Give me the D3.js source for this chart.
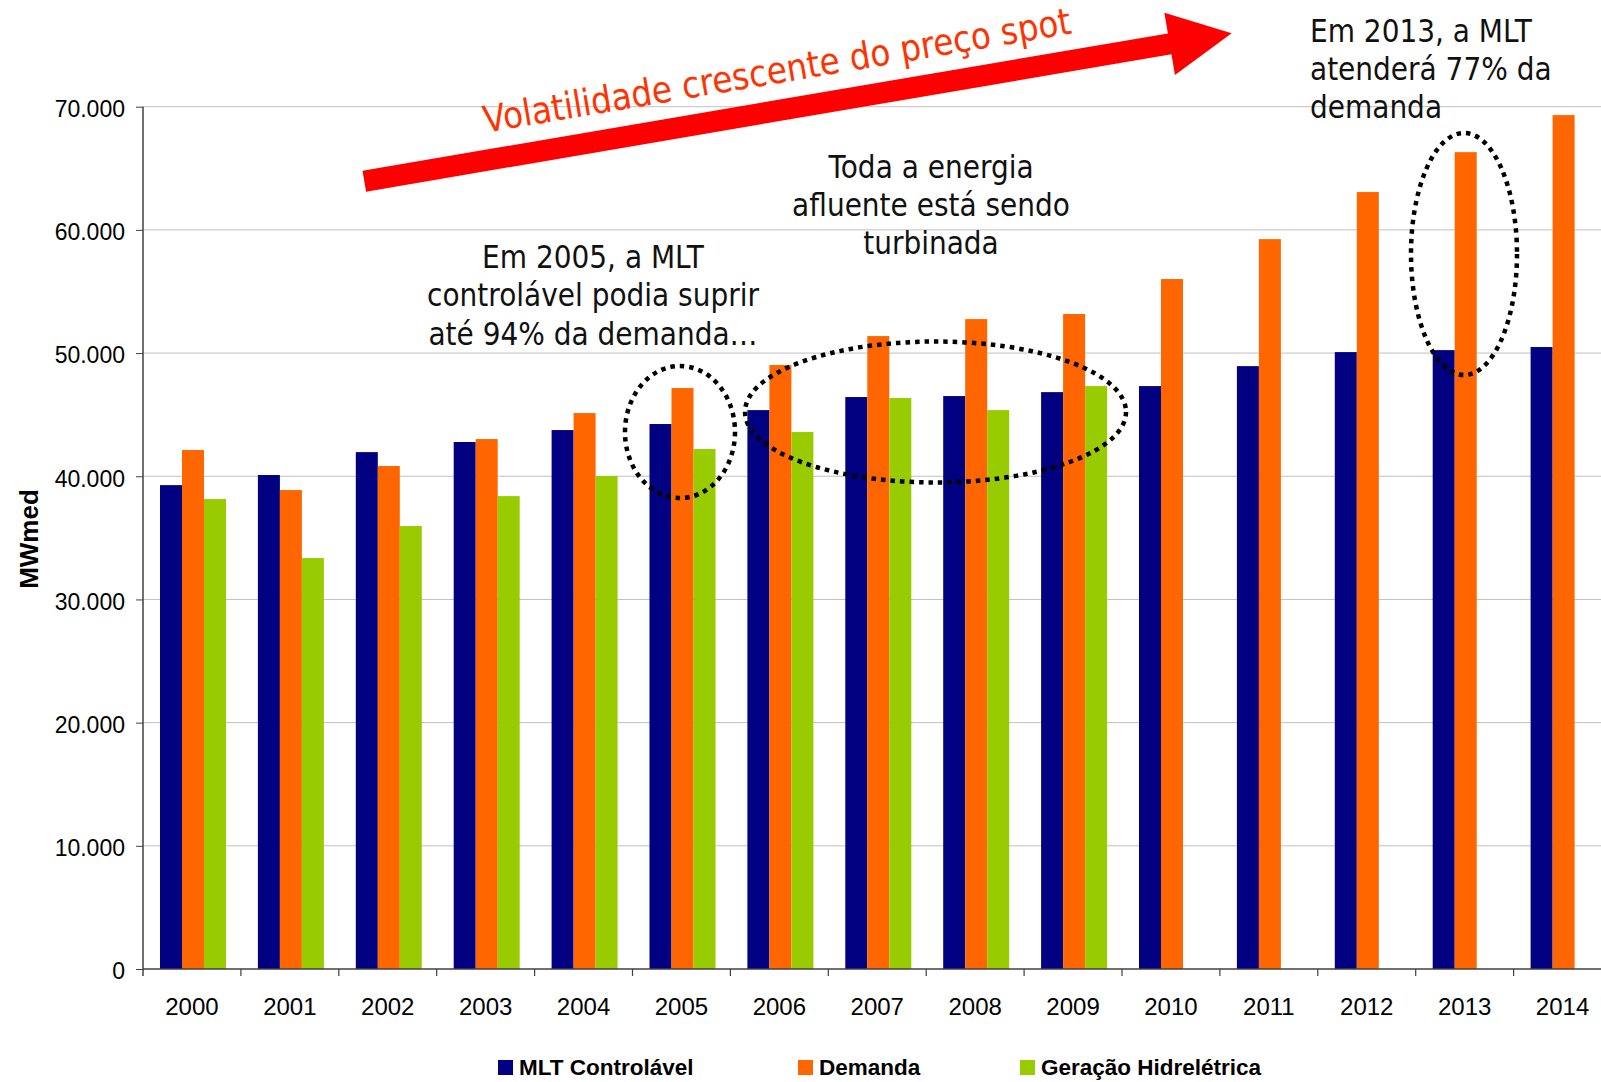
<!DOCTYPE html>
<html>
<head>
<meta charset="utf-8">
<script src="https://cdn.jsdelivr.net/npm/d3@7.9.0/dist/d3.min.js"></script>
<style>
  body { margin: 0; background: #fff; }
  svg { display: block; }
</style>
</head>
<body>
<div id="chart"></div>
<script>
// data (MWmed)
const years = ["2000", "2001", "2002", "2003", "2004", "2005", "2006", "2007",
               "2008", "2009", "2010", "2011", "2012", "2013", "2014"];
const mltControlavel = [39280, 40100, 41960, 42780, 43750, 44240, 45370, 46430,
                        46510, 46830, 47320, 48940, 50080, 50240, 50490];
const demanda = [42130, 38880, 40830, 43020, 45130, 47160, 49030, 51380,
                 52760, 53170, 56010, 59250, 63070, 66310, 69320];
const geracaoHidreletrica = [38150, 33360, 35960, 38390, 40020, 42210, 43590, 46350,
                             45370, 47320, null, null, null, null, null];
const seriesNames = ["MLT Controlável", "Demanda", "Geração Hidrelétrica"];
const seriesColors = ["#000080", "#ff6600", "#99cc00"];
const yTicks = [0, 10000, 20000, 30000, 40000, 50000, 60000, 70000];
const yTitle = "MWmed";

const width = 1601, height = 1082;
const plotLeft = 143, plotTop = 106.7, plotBottom = 969;
const band = 97.9;

const svg = d3.select("#chart").append("svg")
    .attr("width", width)
    .attr("height", height);

const x = d3.scaleBand()
    .domain(years)
    .range([plotLeft, plotLeft + band * years.length]);

const x1 = d3.scaleBand()
    .domain(seriesNames)
    .range([17, 83]);

const y = d3.scaleLinear()
    .domain([0, 70000])
    .range([plotBottom, plotTop]);

const ptBR = d3.formatLocale({ decimal: ",", thousands: ".", grouping: [3], currency: ["", ""] });
const fmt = ptBR.format(",");

// gridlines
svg.append("g")
    .selectAll("line")
    .data(yTicks.filter(d => d > 0))
    .enter()
    .append("line")
    .attr("x1", plotLeft)
    .attr("x2", width)
    .attr("y1", d => y(d))
    .attr("y2", d => y(d))
    .attr("stroke", "#c0c0c0")
    .attr("stroke-width", 1);

// bars
const rows = years.map((yr, i) => ({
    year: yr,
    values: [mltControlavel[i], demanda[i], geracaoHidreletrica[i]]
}));

const groups = svg.append("g")
    .selectAll("g")
    .data(rows)
    .enter()
    .append("g")
    .attr("transform", d => "translate(" + x(d.year) + ",0)");

groups.selectAll("rect")
    .data(d => d.values.map((v, k) => ({ key: seriesNames[k], value: v, k: k })).filter(e => e.value != null))
    .enter()
    .append("rect")
    .attr("x", d => x1(d.key))
    .attr("width", x1.bandwidth())
    .attr("y", d => y(d.value))
    .attr("height", d => y(0) - y(d.value))
    .attr("fill", d => seriesColors[d.k]);

// y axis
const yAxis = svg.append("g")
    .attr("transform", "translate(" + plotLeft + ",0)")
    .call(d3.axisLeft(y).tickValues(yTicks).tickFormat(fmt).tickSize(7).tickSizeOuter(0));
yAxis.select(".domain").remove();
yAxis.selectAll(".tick line").attr("stroke", "#404040");
yAxis.selectAll("text")
    .attr("x", -18)
    .attr("dy", "0.43em")
    .attr("font-family", "'Liberation Sans', Arial, sans-serif")
    .attr("font-size", 23)
    .attr("fill", "#000");
svg.append("line")
    .attr("x1", plotLeft).attr("x2", plotLeft)
    .attr("y1", plotTop).attr("y2", plotBottom + 7)
    .attr("stroke", "#404040").attr("stroke-width", 1.5);

// x axis
const xAxis = svg.append("g")
    .attr("transform", "translate(0," + plotBottom + ")")
    .call(d3.axisBottom(x).tickSize(0).tickSizeOuter(0));
xAxis.select(".domain").remove();
xAxis.selectAll("text")
    .attr("y", 46)
    .attr("dy", 0)
    .attr("font-family", "'Liberation Sans', Arial, sans-serif")
    .attr("font-size", 24)
    .attr("fill", "#000");
svg.append("line")
    .attr("x1", plotLeft).attr("x2", width)
    .attr("y1", plotBottom).attr("y2", plotBottom)
    .attr("stroke", "#404040").attr("stroke-width", 1.5);
svg.append("g")
    .selectAll("line")
    .data(years.slice(1))
    .enter()
    .append("line")
    .attr("x1", d => x(d)).attr("x2", d => x(d))
    .attr("y1", plotBottom).attr("y2", plotBottom + 7)
    .attr("stroke", "#404040").attr("stroke-width", 1.2);

// y title
svg.append("text")
    .attr("transform", "translate(38,539) rotate(-90)")
    .attr("text-anchor", "middle")
    .attr("font-family", "'Liberation Sans', Arial, sans-serif")
    .attr("font-weight", "bold")
    .attr("font-size", 26)
    .text(yTitle);

// legend
const legendX = [498, 798, 1020];
const legend = svg.append("g")
    .selectAll("g")
    .data(seriesNames)
    .enter()
    .append("g")
    .attr("transform", (d, i) => "translate(" + legendX[i] + ",1060)");
legend.append("rect")
    .attr("width", 15).attr("height", 15)
    .attr("fill", (d, i) => seriesColors[i]);
legend.append("text")
    .attr("x", 21).attr("y", 15)
    .attr("font-family", "'Liberation Sans', Arial, sans-serif")
    .attr("font-weight", "bold")
    .attr("font-size", 22.5)
    .text(d => d);

// annotations
function note(lines, tx, baselines, anchor) {
    lines.forEach((t, i) => {
        svg.append("text")
            .attr("transform", "translate(" + tx + "," + baselines[i] + ") scale(0.875,1)")
            .attr("text-anchor", anchor)
            .attr("font-family", "'DejaVu Sans', Verdana, sans-serif")
            .attr("font-size", 32)
            .attr("fill", "#111")
            .text(t);
    });
}
note(["Em 2005, a MLT", "controlável podia suprir", "até 94% da demanda…"], 593, [267.5, 306, 345], "middle");
note(["Toda a energia", "afluente está sendo", "turbinada"], 931, [177.5, 215.5, 254], "middle");
note(["Em 2013, a MLT", "atenderá 77% da", "demanda"], 1310, [42, 80, 117.5], "start");

// dotted ellipses
const rings = [[680, 432, 55, 66], [935.5, 412, 190.5, 70.5], [1464, 254, 53, 121]];
svg.append("g")
    .selectAll("ellipse")
    .data(rings)
    .enter()
    .append("ellipse")
    .attr("cx", d => d[0]).attr("cy", d => d[1])
    .attr("rx", d => d[2]).attr("ry", d => d[3])
    .attr("fill", "none")
    .attr("stroke", "#000")
    .attr("stroke-width", 4.5)
    .attr("stroke-dasharray", "4.5,5");

// red arrow
const arrowLen = 879.9;
svg.append("polygon")
    .attr("transform", "translate(364.3,181.2) rotate(-9.68)")
    .attr("points", [[0, -10.6], [817, -10.6], [817, -31.5], [arrowLen, 0], [817, 31.5], [817, 10.6], [0, 10.6]].join(" "))
    .attr("fill", "#ff0000");

svg.append("text")
    .attr("transform", "translate(779,83) rotate(-9.6) scale(0.885,1)")
    .attr("text-anchor", "middle")
    .attr("font-family", "'DejaVu Sans', Verdana, sans-serif")
    .attr("font-size", 37)
    .attr("fill", "#ff3300")
    .text("Volatilidade crescente do preço spot");
</script>
</body>
</html>
